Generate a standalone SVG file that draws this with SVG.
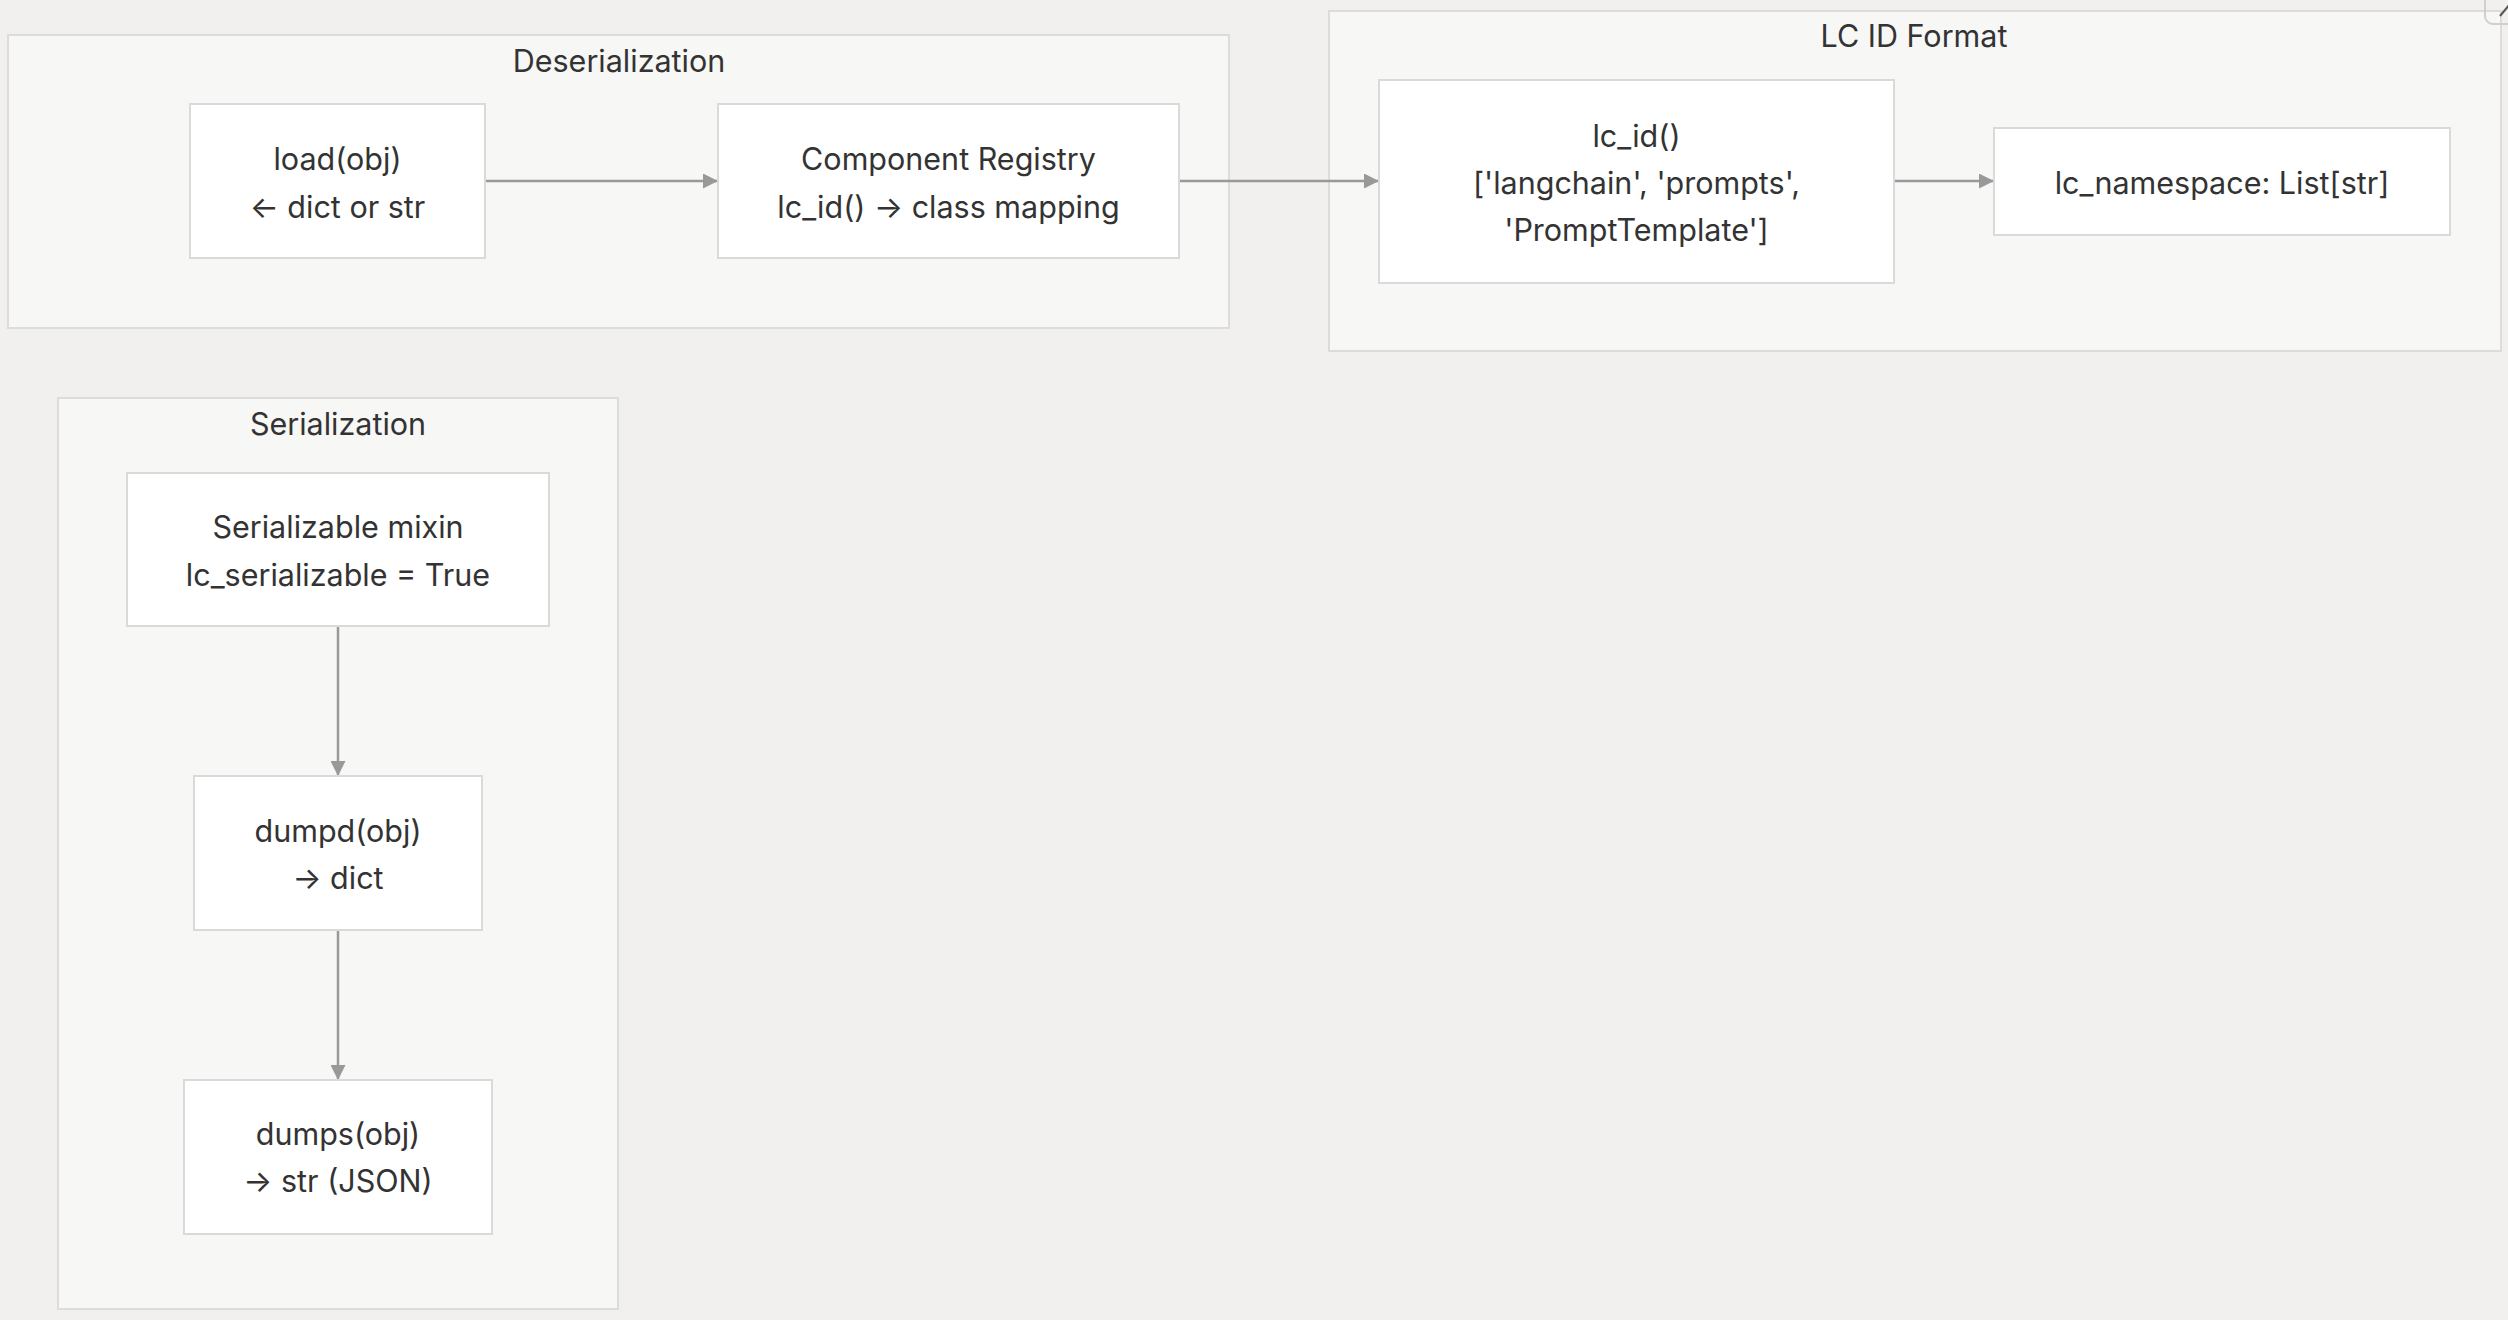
<svg xmlns="http://www.w3.org/2000/svg" width="2508" height="1320" viewBox="0 0 2508 1320">
<defs>
<style>
.bg{fill:#f1f0ee}
.cl{fill:#f7f7f6;stroke:#dcdcdc;stroke-width:2}
.nd{fill:#ffffff;stroke:#dadada;stroke-width:2}
.t{font-family:Inter,"Liberation Sans",sans-serif;font-size:30.5px;fill:#333333;text-anchor:middle;dominant-baseline:central}
.e{stroke:#999999;stroke-width:2.5;fill:none}
</style>
<marker id="ah" viewBox="0 0 10 10" refX="10" refY="5" markerWidth="16" markerHeight="15" orient="auto" markerUnits="userSpaceOnUse">
<path d="M0,0 L10,5 L0,10 z" fill="#999999"/>
</marker>
</defs>
<rect class="bg" x="0" y="0" width="2508" height="1320"/>
<g id="cluster-deserialization">
<rect class="cl" x="8" y="35" width="1221" height="293"/>
<text class="t" x="619" y="60">Deserialization</text>
</g>
<g id="cluster-lcid">
<rect class="cl" x="1329" y="11" width="1172" height="340"/>
<text class="t" x="1914" y="35">LC ID Format</text>
</g>
<g id="cluster-serialization">
<rect class="cl" x="58" y="398" width="560" height="911"/>
<text class="t" x="338" y="423">Serialization</text>
</g>
<g id="corner-icon">
<rect x="2485" y="-12" width="40" height="36" rx="8" fill="none" stroke="#cfcfcf" stroke-width="2"/>
<line x1="2500" y1="16" x2="2510" y2="4" stroke="#555" stroke-width="2"/>
</g>
<g id="edges">
<line class="e" x1="485" y1="181" x2="718" y2="181" marker-end="url(#ah)"/>
<line class="e" x1="1179" y1="181" x2="1379" y2="181" marker-end="url(#ah)"/>
<line class="e" x1="1894" y1="181" x2="1994" y2="181" marker-end="url(#ah)"/>
<line class="e" x1="338" y1="626" x2="338" y2="776" marker-end="url(#ah)"/>
<line class="e" x1="338" y1="930" x2="338" y2="1080" marker-end="url(#ah)"/>
</g>
<g id="node-load">
<rect class="nd" x="190" y="104" width="295" height="154"/>
<text class="t" x="337.5" y="158">load(obj)</text>
<text class="t" x="337.5" y="206">← dict or str</text>
</g>
<g id="node-registry">
<rect class="nd" x="718" y="104" width="461" height="154"/>
<text class="t" x="948.5" y="158">Component Registry</text>
<text class="t" x="948.5" y="206">lc_id() → class mapping</text>
</g>
<g id="node-lcid">
<rect class="nd" x="1379" y="80" width="515" height="203"/>
<text class="t" x="1636.5" y="135">lc_id()</text>
<text class="t" x="1636.5" y="182">['langchain', 'prompts',</text>
<text class="t" x="1636.5" y="229">'PromptTemplate']</text>
</g>
<g id="node-namespace">
<rect class="nd" x="1994" y="128" width="456" height="107"/>
<text class="t" x="2222" y="182">lc_namespace: List[str]</text>
</g>
<g id="node-serializable">
<rect class="nd" x="127" y="473" width="422" height="153"/>
<text class="t" x="338" y="526">Serializable mixin</text>
<text class="t" x="338" y="574">lc_serializable = True</text>
</g>
<g id="node-dumpd">
<rect class="nd" x="194" y="776" width="288" height="154"/>
<text class="t" x="338" y="830">dumpd(obj)</text>
<text class="t" x="338" y="877">→ dict</text>
</g>
<g id="node-dumps">
<rect class="nd" x="184" y="1080" width="308" height="154"/>
<text class="t" x="338" y="1133">dumps(obj)</text>
<text class="t" x="338" y="1180">→ str (JSON)</text>
</g>
</svg>
